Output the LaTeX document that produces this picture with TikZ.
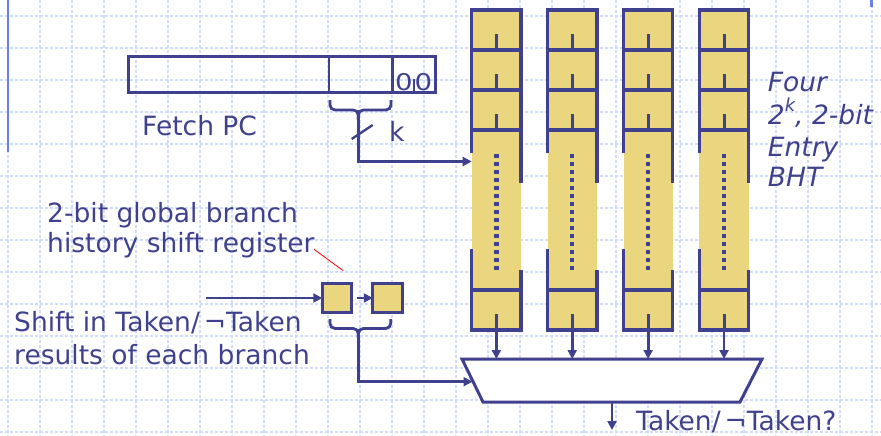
\documentclass[tikz,border=0pt]{standalone}
\usepackage{fontspec}
\setmainfont{DejaVu Sans}
\usetikzlibrary{arrows.meta}
\definecolor{ink}{HTML}{3F418E}
\definecolor{bhtfill}{HTML}{EAD67F}
\definecolor{gridc}{HTML}{D2DCF8}
\definecolor{barc}{HTML}{6A80F0}
\begin{document}
\begin{tikzpicture}[x=1pt,y=-1pt,
  gridline/.style={gridc, line width=1.6pt, dash pattern=on 3pt off 2pt},
  wire/.style={ink, line width=2.8pt},
  arr/.style={wire, -{Triangle[length=9pt,width=9pt]}},
  box/.style={draw=ink, line width=3pt},
  regbox/.style={draw=ink, fill=bhtfill, line width=3pt, minimum width=29.5pt, minimum height=29.5pt, inner sep=0pt, outer sep=0pt},
  colfill/.style={fill=bhtfill, minimum width=49.3pt, minimum height=320pt, inner sep=0pt, outer sep=0pt, anchor=north west},
  lbl/.style={ink, inner sep=0pt, anchor=base west, font=\fontsize{26.5}{30}\selectfont},
  bhtlbl/.style={ink, inner sep=0pt, anchor=base west, font=\fontsize{26.5}{30}\selectfont\itshape}]
\useasboundingbox (0,0) rectangle (881,436);
\fill[white] (0,0) rectangle (881,436);
% background grid
\foreach \y in {16,48,...,432} \draw[gridline] (0,\y) -- (881,\y);
\foreach \x in {8,40,...,872} \draw[gridline] (\x,0) -- (\x,436);
\draw[barc, line width=2.6pt] (8,0) -- (8,152);
\draw[barc, line width=2.6pt] (871.5,0) -- (871.5,7);

% Fetch PC register
\draw[box] (128.3,56.7) rectangle (435,92.3);
\draw[wire] (329,56.7) -- (329,92.3);
\draw[wire] (392.7,56.7) -- (392.7,92.3);
\node[ink, inner sep=0pt, anchor=base, font=\fontsize{23}{23}\selectfont, xscale=1.2] (z1) at (404,90.5) {0};
\node[ink, inner sep=0pt, anchor=base, font=\fontsize{23}{23}\selectfont, xscale=1.2] (z2) at (423.5,90.5) {0};
\draw[ink, line width=2pt] (414.3,79) -- (414.3,92.3);
\node[lbl] (fpc) at (142,135) {Fetch PC};

% BHT columns
\foreach \i in {0,1,2,3} {
  \pgfmathsetmacro{\xl}{471.7+75.9*\i}
  \pgfmathsetmacro{\xr}{\xl+49.3}
  \pgfmathsetmacro{\cx}{\xl+24.65}
  \node[colfill] (c\i) at (\xl,10) {};
  \draw[wire, line width=3.2pt] (\xl,153) -- (\xl,10) -- (\xr,10) -- (\xr,182.5);
  \foreach \yy in {50,90,130} {
    \draw[wire, line width=3.2pt] (\xl,\yy) -- (\xr,\yy);
    \draw[wire, line width=3pt] (\cx,\yy) -- (\cx,\yy-16);
  }
  \draw[wire, line width=3.2pt] (\xl,249.3) -- (\xl,330) -- (\xr,330) -- (\xr,270);
  \draw[wire, line width=3.2pt] (\xl,290) -- (\xr,290);
  \draw[wire, line width=3pt] (\cx,330) -- (\cx,314);
  \foreach \yy in {156,164,...,268}
    \fill[ink] (\cx-2.2,\yy-2.2) rectangle (\cx+2.2,\yy+2.2);
}

% mux
\coordinate (mtl) at (462,359);
\coordinate (mtr) at (762,359);
\coordinate (mbr) at (740,402);
\coordinate (mbl) at (483,402);
\draw[box, fill=white] (mtl) -- (mtr) -- (mbr) -- (mbl) -- cycle;
\foreach \i in {0,1,2,3}
  \draw[arr] (c\i.south) -- (c\i.south |- mtl);
\coordinate (muxin) at (472.5,381.7);
\coordinate (mout) at (612,402);
\coordinate (res) at (612,430);
\draw[arr] (mout) -- (res);

% k index bits
\draw[wire, rounded corners=5pt] (330,100) -- (330,110) -- (358.3,110) -- (358.3,120);
\draw[wire, rounded corners=5pt] (391,100) -- (391,110) -- (358.3,110) -- (358.3,120);
\coordinate (kbr) at (358.3,110);
\coordinate (kturn) at (358.3,161.5);
\draw[arr] (kbr) -- (kturn) -- (c0.west |- kturn);
\draw[wire, line width=2.4pt] (351.7,139) -- (372.7,125);
\node[lbl] (k) at (389,141.5) {k};

% global history shift register
\node[regbox] (r1) at (337,298) {};
\node[regbox] (r2) at (387.5,298) {};
\coordinate (shin) at (206,298);
\draw[arr] (shin) -- (r1.west);
\draw[arr] ([xshift=5pt]r1.east) -- (r2.west);
\draw[wire, rounded corners=5pt] (330,319) -- (330,328.5) -- (358.3,328.5) -- (358.3,338);
\draw[wire, rounded corners=5pt] (390.7,319) -- (390.7,328.5) -- (358.3,328.5) -- (358.3,338);
\coordinate (hbr) at (358.3,328.5);
\coordinate (hturn) at (358.3,381.7);
\draw[arr] (hbr) -- (hturn) -- (muxin);
\draw[red, line width=0.8pt] (314,249.3) -- (343.3,270.7);

% labels
\node[lbl] (g1) at (47,222.7) {2-bit global branch};
\node[lbl] (g2) at (47,252.7) {history shift register};
\node[lbl] (s1) at (14,331.7) {Shift in Taken/\kern4pt¬Taken};
\node[lbl] (s2) at (14,364) {results of each branch};
\node[lbl] (out) at (636,430.5) {Taken/\kern4pt¬Taken?};
\node[bhtlbl] (b1) at (767.7,91.7) {Four};
\node[bhtlbl] (b2) at (767.7,124) {2\raisebox{0.47em}{\fontsize{18}{18}\selectfont k}, 2-bit};
\node[bhtlbl] (b3) at (767.7,156) {Entry};
\node[bhtlbl] (b4) at (767.7,186.7) {BHT};
\end{tikzpicture}
\end{document}
